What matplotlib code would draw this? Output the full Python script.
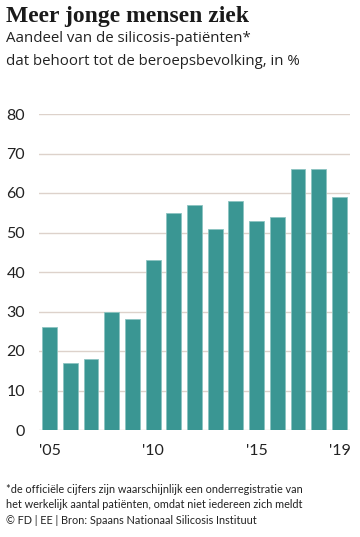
import matplotlib

matplotlib.use("Agg")
import matplotlib.pyplot as plt

years = list(range(2005, 2020))
share = [26, 17, 18, 30, 28, 43, 55, 57, 51, 58, 53, 54, 66, 66, 59]
tick_years = [2005, 2010, 2015, 2019]
tick_labels = ["'05", "'10", "'15", "'19"]
y_ticks = [0, 10, 20, 30, 40, 50, 60, 70, 80]

BAR = "#3a9693"
GRID = "#ddd2cb"
TEXT = "#222222"

fig = plt.figure(figsize=(3.6, 5.37), dpi=100)
ax = fig.add_axes([39 / 360, 1 - 430 / 537, 311 / 360, 316 / 537])

pos = [y - years[0] for y in years]
ax.bar(pos, share, width=0.72, color=BAR, edgecolor="#8cc4c1", linewidth=0.6, zorder=3)

ax.set_xlim(-0.51, 14.51)
ax.set_ylim(0, 80)
ax.set_yticks(y_ticks)
ax.set_yticklabels([str(v) for v in y_ticks])
ax.set_xticks([y - years[0] for y in tick_years])
ax.set_xticklabels(tick_labels)
ax.grid(axis="y", color=GRID, linewidth=1.0, zorder=0)
ax.tick_params(axis="both", length=0, labelsize=11.5, labelcolor=TEXT)
ax.tick_params(axis="y", pad=10)
ax.tick_params(axis="x", pad=10)
for label in ax.get_xticklabels() + ax.get_yticklabels():
    label.set_family("Lato")
for spine in ax.spines.values():
    spine.set_visible(False)

fig.text(6 / 360, 1 - 6 / 537, "Meer jonge mensen ziek", family="Liberation Serif",
         weight="bold", fontsize=17, color="#1a1a1a", va="top", ha="left")
fig.text(6 / 360, 1 - 31 / 537, "Aandeel van de silicosis-patiënten*\ndat behoort tot de beroepsbevolking, in %",
         family="Open Sans", fontsize=10.8, color=TEXT, va="top", ha="left", linespacing=1.75)

fig.text(6 / 360, 1 - 484 / 537,
         "*de officiële cijfers zijn waarschijnlijk een onderregistratie van\n"
         "het werkelijk aantal patiënten, omdat niet iedereen zich meldt\n"
         "© FD | EE | Bron: Spaans Nationaal Silicosis Instituut",
         family="Lato", fontsize=7.8, color=TEXT, va="top", ha="left", linespacing=1.5)

fig.savefig("out.png", dpi=100)
